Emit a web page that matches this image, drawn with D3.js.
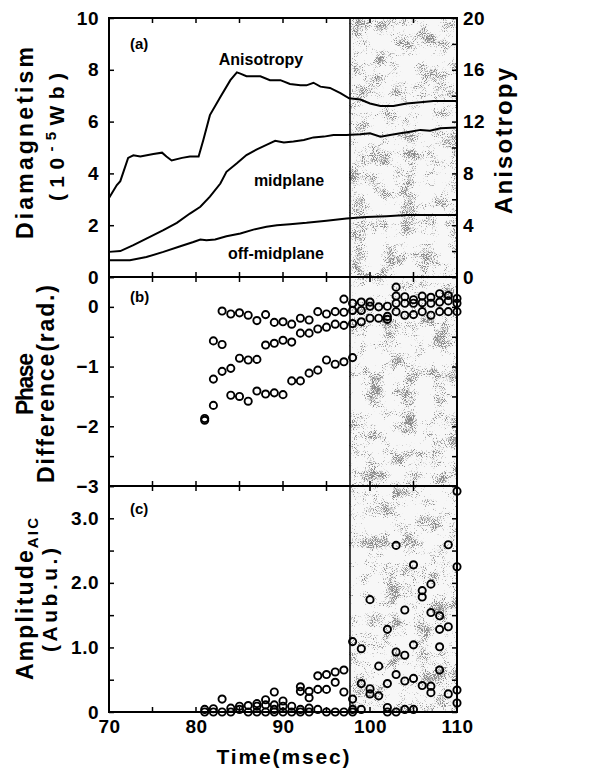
<!DOCTYPE html>
<html><head><meta charset="utf-8">
<script src="https://cdn.jsdelivr.net/npm/d3@7/dist/d3.min.js"></script>
<style>
body{margin:0;background:#fff}
svg{display:block}
text{font-family:"Liberation Sans",Arial,Helvetica,sans-serif;font-weight:bold;fill:#000}
</style>
</head><body>
<svg id="chart" width="590" height="773"></svg>
<script>
// ---------- data ----------
const timeDomain = [70, 110];
const xTickValues = [70, 75, 80, 85, 90, 95, 100, 105, 110];
const xTickLabels = [70, 80, 90, 100, 110];
const shadeStart = 97.7;

// Panel (a): anisotropy (right axis units)
const anisoTime = [70, 70.9, 71.3, 72.2, 72.8, 73.6, 75.1, 76.1, 76.6, 77.2, 78.4, 79.3, 80.3, 80.85, 81.6, 82.8, 83.95, 84.7, 85.1, 85.8, 87.4, 88.5, 89.7, 90.8, 92.0, 92.7, 93.5, 94.3, 95.4, 96.6, 97.6, 98.9, 100.0, 101.2, 102.7, 104.2, 105.8, 107.3, 110];
const anisoValue = [6.1, 7.1, 7.4, 9.2, 9.4, 9.3, 9.5, 9.6, 9.3, 9.0, 9.2, 9.3, 9.3, 10.6, 12.5, 13.9, 15.2, 15.8, 15.7, 15.5, 15.5, 15.2, 15.2, 14.9, 14.8, 14.8, 15.0, 14.7, 14.6, 14.2, 13.8, 13.7, 13.4, 13.2, 13.2, 13.4, 13.5, 13.6, 13.6];
// Panel (a): midplane diamagnetism (1e-5 Wb)
const midTime = [70, 71.3, 72.8, 74.7, 76.25, 77.8, 79.3, 80.5, 81.6, 82.8, 83.5, 84.7, 85.8, 87.0, 88.1, 89.1, 90.1, 91.2, 92.4, 93.5, 94.7, 95.8, 97.3, 98.9, 100.0, 101.2, 102.3, 103.5, 104.6, 105.8, 106.9, 108.1, 110];
const midValue = [0.97, 1.0, 1.23, 1.55, 1.81, 2.09, 2.45, 2.71, 3.1, 3.61, 4.06, 4.39, 4.71, 4.93, 5.1, 5.26, 5.19, 5.23, 5.29, 5.39, 5.42, 5.48, 5.48, 5.51, 5.55, 5.42, 5.48, 5.55, 5.61, 5.68, 5.65, 5.74, 5.77];
// Panel (a): off-midplane diamagnetism (1e-5 Wb)
const offTime = [70, 72.4, 74.3, 76.25, 78.2, 79.7, 80.5, 81.2, 82.2, 83.5, 85.1, 86.6, 88.1, 89.3, 90.8, 92.7, 95.0, 97.3, 99.6, 101.9, 104.2, 107.3, 110];
const offValue = [0.65, 0.65, 0.77, 0.97, 1.19, 1.35, 1.45, 1.42, 1.45, 1.57, 1.68, 1.83, 1.94, 2.0, 2.04, 2.09, 2.17, 2.26, 2.32, 2.35, 2.39, 2.39, 2.39];

// Panel (b): phase difference (rad.)
const phaseTime = [81, 82, 83, 84, 85, 86, 87, 88, 89, 90, 91, 92, 93, 94, 95, 96, 97, 98, 99, 100, 101, 102, 103, 104, 105, 106, 107, 108, 109, 110];
const phaseValues = [
  [-1.87, -1.90], [-0.57, -1.21, -1.65], [-0.07, -0.63, -1.08], [-0.12, -1.03, -1.48],
  [-0.10, -0.86, -1.50], [-0.14, -0.89, -1.58], [-0.23, -0.88, -1.41], [-0.13, -0.64, -1.46],
  [-0.26, -0.61, -1.44], [-0.25, -0.56, -1.47], [-0.29, -0.59, -1.24], [-0.19, -0.44, -1.24],
  [-0.22, -0.44, -1.11], [-0.08, -0.37, -1.06], [-0.12, -0.34, -0.89], [-0.08, -0.29, -0.96],
  [0.13, -0.09, -0.31, -0.92], [0.06, -0.06, -0.28, -0.85], [0.08, -0.06, -0.25], [0.08, 0.01, -0.19],
  [0.0, -0.19], [0.01, -0.16, -0.21], [0.33, 0.18, 0.06, -0.08], [0.17, 0.06, -0.14],
  [0.12, 0.06, -0.13], [0.18, 0.07, -0.08], [0.16, 0.06, -0.14], [0.22, 0.08, -0.08],
  [0.19, 0.10, -0.08], [0.14, 0.06, -0.08]
];

// Panel (c): amplitude AIC (arb. u.)
const ampTime = [81, 82, 83, 84, 85, 86, 87, 88, 89, 90, 91, 92, 93, 94, 95, 96, 97, 98, 99, 100, 101, 102, 103, 104, 105, 106, 107, 108, 109, 110];
const ampValues = [
  [0, 0.04], [0, 0.05], [0, 0.2], [0, 0.06], [0.04, 0.09], [0, 0.1], [0, 0.09, 0.13], [0, 0.11, 0.19],
  [0, 0.04, 0.11, 0.31], [0, 0.09, 0.17], [0, 0.09], [0, 0.04, 0.32, 0.39], [0, 0.06, 0.22, 0.32],
  [0.04, 0.35, 0.56], [0, 0.35, 0.58], [0, 0.46, 0.62], [0, 0.31, 0.65], [0, 0.04, 0.2, 1.09],
  [0.04, 0.44, 0.98], [0.28, 0.36, 1.74], [0.25, 0.71], [0, 0.07, 0.44, 1.28], [0, 0.58, 0.93, 2.58],
  [0.04, 0.48, 0.88, 1.58], [0.04, 0.52, 1.04, 2.28], [0.41, 1.78, 1.88], [0.3, 0.4, 1.54, 1.98],
  [0.65, 1.01, 1.28, 1.49], [0.28, 1.32, 2.59], [0.14, 0.34, 2.25, 3.42]
];

// axis tick definitions
const diaTicks = [0, 2, 4, 6, 8, 10];
const anisoTicks = [0, 2, 4, 6, 8, 10, 12, 14, 16, 18, 20];
const anisoLabels = [0, 4, 8, 12, 16, 20];
const phaseTicks = [-3, -2.5, -2, -1.5, -1, -0.5, 0, 0.5];
const phaseLabels = [-3, -2, -1, 0];
const ampTicks = [0, 0.5, 1, 1.5, 2, 2.5, 3, 3.5];
const ampLabels = [0, 1, 2, 3];

// ---------- layout ----------
const L = 109, R = 457;
const A = {top: 18, bottom: 277};
const B = {top: 277, bottom: 486};
const C = {top: 486, bottom: 712};

const svg = d3.select("#chart");
const x = d3.scaleLinear().domain(timeDomain).range([L, R]);
const yDia = d3.scaleLinear().domain([0, 10]).range([A.bottom, A.top]);
const yAni = d3.scaleLinear().domain([0, 20]).range([A.bottom, A.top]);
const yPh = d3.scaleLinear().domain([-3, 0.5]).range([B.bottom, B.top]);
const yAmp = d3.scaleLinear().domain([0, 3.5]).range([C.bottom, C.top]);

// stippled shading texture
const defs = svg.append("defs");
const f = defs.append("filter").attr("id", "stip").attr("x", 0).attr("y", 0).attr("width", 1).attr("height", 1)
  .attr("color-interpolation-filters", "sRGB");
f.append("feTurbulence").attr("type", "fractalNoise").attr("baseFrequency", 1.1).attr("numOctaves", 1).attr("seed", 5).attr("result", "t1");
f.append("feColorMatrix").attr("in", "t1").attr("type", "matrix")
  .attr("values", "1 0 0 0 0  0 0 0 0 0  0 0 0 0 0  0 0 0 0 1").attr("result", "c1");
f.append("feTurbulence").attr("type", "fractalNoise").attr("baseFrequency", 0.06).attr("numOctaves", 2).attr("seed", 11).attr("result", "t2");
f.append("feColorMatrix").attr("in", "t2").attr("type", "matrix")
  .attr("values", "0 0 0 0 0  1 0 0 0 0  0 0 0 0 0  0 0 0 0 1").attr("result", "c2");
f.append("feComposite").attr("in", "c1").attr("in2", "c2").attr("operator", "arithmetic")
  .attr("k1", 0).attr("k2", 1).attr("k3", 1).attr("k4", 0).attr("result", "sum");
f.append("feColorMatrix").attr("in", "sum").attr("type", "matrix")
  .attr("values", "0 0 0 0 0.55  0 0 0 0 0.55  0 0 0 0 0.55  6 5 0 0 -6.1");

const shadeW = x(timeDomain[1]) - x(shadeStart);
svg.append("rect").attr("x", x(shadeStart)).attr("y", A.top)
  .attr("width", shadeW).attr("height", C.bottom - A.top).attr("fill", "#f7f7f7");
svg.append("rect").attr("x", x(shadeStart)).attr("y", A.top)
  .attr("width", shadeW).attr("height", C.bottom - A.top)
  .attr("filter", "url(#stip)").attr("fill", "#ccc");
svg.append("line").attr("x1", x(shadeStart)).attr("x2", x(shadeStart))
  .attr("y1", A.top).attr("y2", C.bottom).attr("stroke", "#000").attr("stroke-width", 1.5);

// ---------- panel (a) lines ----------
const lineDia = (ts, vs) => d3.line().x((d, i) => x(ts[i])).y(d => yDia(d))(vs);
const lineAni = d3.line().x((d, i) => x(anisoTime[i])).y(d => yAni(d));
svg.append("path").attr("d", lineAni(anisoValue)).attr("fill", "none").attr("stroke", "#000").attr("stroke-width", 2);
svg.append("path").attr("d", lineDia(midTime, midValue)).attr("fill", "none").attr("stroke", "#000").attr("stroke-width", 2);
svg.append("path").attr("d", lineDia(offTime, offValue)).attr("fill", "none").attr("stroke", "#000").attr("stroke-width", 2);

// ---------- scatter ----------
function scatter(times, vals, yScale) {
  const pts = [];
  times.forEach((t, i) => vals[i].forEach(v => pts.push([t, v])));
  svg.append("g").selectAll("circle").data(pts).join("circle")
    .attr("cx", d => x(d[0])).attr("cy", d => yScale(d[1])).attr("r", 3.6)
    .attr("fill", "none").attr("stroke", "#000").attr("stroke-width", 1.9);
}
scatter(phaseTime, phaseValues, yPh);
scatter(ampTime, ampValues, yAmp);

// ---------- frames ----------
[A, B, C].forEach(p => {
  svg.append("rect").attr("x", L).attr("y", p.top).attr("width", R - L).attr("height", p.bottom - p.top)
    .attr("fill", "none").attr("stroke", "#000").attr("stroke-width", 2);
});

// ---------- axes ----------
const fontTick = "19px";
function styleAxis(g) {
  g.select(".domain").remove();
  g.selectAll(".tick line").attr("stroke", "#000").attr("stroke-width", 1.5);
  g.selectAll(".tick text").style("font-size", fontTick).style("font-family", '"Liberation Sans",Arial,sans-serif')
    .style("font-weight", "bold").attr("fill", "#000").style("letter-spacing", "0.5px");
}
function leftAxis(scale, ticks, labels, fmt) {
  const g = svg.append("g").attr("transform", `translate(${L},0)`)
    .call(d3.axisLeft(scale).tickValues(ticks).tickSize(-5).tickPadding(10)
      .tickFormat(d => labels.some(l => Math.abs(l - d) < 1e-9) ? fmt(d) : ""));
  styleAxis(g);
}
function rightAxis(scale, ticks, labels, fmt) {
  const g = svg.append("g").attr("transform", `translate(${R},0)`)
    .call(d3.axisRight(scale).tickValues(ticks).tickSize(-5).tickPadding(6)
      .tickFormat(d => labels.some(l => Math.abs(l - d) < 1e-9) ? fmt(d) : ""));
  styleAxis(g);
}
const intFmt = d => d3.format("d")(d);
const decFmt = d => d === 0 ? "0" : d3.format(".1f")(d);
leftAxis(yDia, diaTicks, diaTicks, intFmt);
rightAxis(yAni, anisoTicks, anisoLabels, intFmt);
leftAxis(yPh, phaseTicks, phaseLabels, intFmt);
rightAxis(yPh, phaseTicks, [], intFmt);
leftAxis(yAmp, ampTicks, ampLabels, decFmt);
rightAxis(yAmp, ampTicks, [], decFmt);

// x ticks on every panel edge
[A, B, C].forEach(p => {
  [p.top, p.bottom].forEach((yy, k) => {
    const dir = k === 0 ? 1 : -1;
    svg.append("g").selectAll("line").data(xTickValues.slice(1, -1)).join("line")
      .attr("x1", d => x(d)).attr("x2", d => x(d)).attr("y1", yy).attr("y2", yy + dir * 5)
      .attr("stroke", "#000").attr("stroke-width", 1.5);
  });
});
const gx = svg.append("g").attr("transform", `translate(0,${C.bottom})`)
  .call(d3.axisBottom(x).tickValues(xTickLabels).tickSize(0).tickPadding(8).tickFormat(intFmt));
styleAxis(gx);

// ---------- annotations ----------
function txt(xx, yy, s, size, anchor) {
  return svg.append("text").attr("x", xx).attr("y", yy).attr("text-anchor", anchor || "start")
    .style("font-size", size).text(s);
}
txt(130, 49, "(a)", "15px");
txt(130, 302, "(b)", "15px");
txt(130, 514, "(c)", "15px");
txt(261, 65, "Anisotropy", "16px", "middle");
txt(289, 186, "midplane", "16px", "middle");
txt(276, 259, "off-midplane", "16px", "middle");

// axis titles
function vtext(xx, yy, size, len) {
  const t = svg.append("text").attr("transform", `translate(${xx},${yy}) rotate(-90)`)
    .attr("text-anchor", "middle").style("font-size", size);
  if (len) t.attr("textLength", len).attr("lengthAdjust", "spacing");
  return t;
}
vtext(33, 143, "23px", 192).text("Diamagnetism");
const t2 = vtext(64, 137, "21px", 128);
t2.append("tspan").text("(10");
t2.append("tspan").attr("dy", -8).style("font-size", "15px").text("-5");
t2.append("tspan").attr("dy", 8).text("Wb)");
vtext(512, 141, "24px", 146).text("Anisotropy");
vtext(33, 384, "23px", 62).text("Phase");
vtext(54, 384, "23px", 198).text("Difference(rad.)");
const t5 = vtext(33, 599, "23px", 162);
t5.append("tspan").text("Amplitude");
t5.append("tspan").attr("dy", 5).style("font-size", "15px").text("AIC");
vtext(57, 600, "21px", 104).text("(Aub.u.)");
svg.append("text").attr("x", 283).attr("y", 764).attr("text-anchor", "middle")
  .attr("textLength", 133).attr("lengthAdjust", "spacing").style("font-size", "21px").text("Time(msec)");
</script>
</body></html>
